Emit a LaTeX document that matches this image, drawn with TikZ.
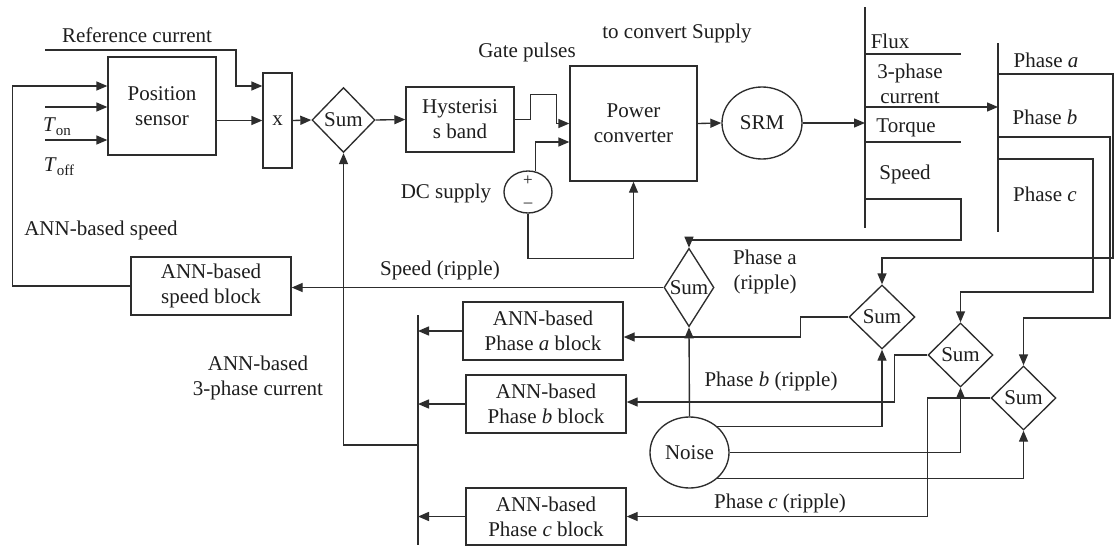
\documentclass[tikz,border=0pt]{standalone}
\usepackage{fontspec}
\setmainfont{Liberation Serif}
\usetikzlibrary{arrows.meta,shapes.geometric,calc}
\definecolor{lc}{RGB}{45,45,45}
\definecolor{tc}{RGB}{30,30,30}
\newcommand\dfont{\fontsize{21}{25}\selectfont}
\newcommand\subfont{\fontsize{15}{15}\selectfont}
\begin{document}
\begin{tikzpicture}[x=1pt,y=-1pt,line width=1.35pt,draw=lc,
  box/.style={draw=lc,rectangle,inner sep=0pt,align=center,text=tc,font=\dfont},
  sumd/.style={draw=lc,diamond,inner sep=0pt,text=tc,font=\dfont},
  ell/.style={draw=lc,ellipse,inner sep=0pt,text=tc,font=\dfont},
  lbl/.style={align=center,inner sep=0pt,text=tc,font=\dfont},
  arr/.style={draw=lc,-{Triangle[length=11pt,width=9pt]}},
  wire/.style={draw=lc}]
\useasboundingbox (0,0) rectangle (1114,546);
\fill[white] (0,0) rectangle (1114,546);

% ---- nodes
\node[box,minimum width=108pt,minimum height=98pt] (ps) at (162,106) {Position\\sensor};
\node[box,minimum width=29pt,minimum height=95pt] (xb) at (277.5,120.5) {x};
\node[sumd,minimum width=63pt,minimum height=65pt] (sum0) at (343.5,120) {Sum};
\node[box,minimum width=108pt,minimum height=65pt] (hb) at (460,119.5) {Hysterisi\\s band};
\node[box,minimum width=127pt,minimum height=115pt] (pc) at (633.5,123.5) {Power\\converter};
\node[ell,minimum width=48pt,minimum height=42pt] (dc) at (528,192) {};
\node[lbl,font=\fontsize{17}{17}\selectfont] (dcp) at (528,181) {+};
\node[lbl,font=\fontsize{17}{17}\selectfont] (dcm) at (528,205) {–};
\node[ell,minimum width=80pt,minimum height=72pt] (srm) at (762,123) {SRM};
\node[sumd,aspect=0.6,minimum width=50pt,minimum height=65pt] (ss) at (689,287.5) {Sum};
\node[sumd,minimum width=66pt,minimum height=64pt] (sa) at (882,317) {Sum};
\node[sumd,minimum width=65pt,minimum height=64pt] (sb) at (960.5,355) {Sum};
\node[sumd,minimum width=65pt,minimum height=64pt] (sc) at (1023.5,398) {Sum};
\node[ell,minimum width=79pt,minimum height=71pt] (noise) at (689.5,452.5) {Noise};
\node[box,minimum width=160pt,minimum height=58pt] (anns) at (211,286) {ANN-based\\speed block};
\node[box,minimum width=160pt,minimum height=58pt] (anna) at (543,331) {ANN-based\\Phase \textit{a} block};
\node[box,minimum width=160pt,minimum height=58pt] (annb) at (546,404) {ANN-based\\Phase \textit{b} block};
\node[box,minimum width=160pt,minimum height=57pt] (annc) at (546,516.5) {ANN-based\\Phase \textit{c} block};

% ---- labels
\node[lbl] (lrc) at (137,35) {Reference current};
\node[lbl] (lton) at (57,127) {\textit{T}\raisebox{-4pt}{\subfont on}};
\node[lbl] (ltoff) at (59,167) {\textit{T}\raisebox{-4pt}{\subfont off}};
\node[lbl] (lgp) at (527,52) {Gate pulses};
\node[lbl] (lcs) at (677,33) {to convert Supply};
\node[lbl] (ldc) at (446,193) {DC supply};
\node[lbl] (lflux) at (890,41) {Flux};
\node[lbl] (lcur) at (910,84) {3-phase\\current};
\node[lbl] (ltq) at (906,128) {Torque};
\node[lbl] (lspd) at (905,174) {Speed};
\node[lbl] (lpa) at (1046,60) {Phase \textit{a}};
\node[lbl] (lpb) at (1045,117) {Phase \textit{b}};
\node[lbl] (lpc) at (1045,194) {Phase \textit{c}};
\node[lbl] (lanns) at (101,230) {ANN-based speed};
\node[lbl] (lsr) at (440,270) {Speed (ripple)};
\node[lbl] (lpar) at (765,272) {Phase a\\(ripple)};
\node[lbl] (l3c) at (258,378) {ANN-based\\3-phase current};
\node[lbl] (lpbr) at (771,381) {Phase \textit{b} (ripple)};
\node[lbl] (lpcr) at (780,503) {Phase \textit{c} (ripple)};

% ---- coordinates
\coordinate (rc) at (45,50);
\coordinate (ton) at (45,107);
\coordinate (toff) at (45,140);
\coordinate (b1t) at (865,7);
\coordinate (b1b) at (865,228);
\coordinate (flux) at (865,54);
\coordinate (cur) at (865,107);
\coordinate (tq) at (865,142);
\coordinate (spd) at (865,199);
\coordinate (b2t) at (998,43);
\coordinate (b2b) at (998,232);
\coordinate (pa) at (998,74);
\coordinate (pb) at (998,137);
\coordinate (pcc) at (998,159);
\coordinate (b3t) at (418,315);
\coordinate (b3b) at (418,545);
\coordinate (b3m) at (418,445);

% ---- buses and stubs
\draw[wire] (b1t) -- (b1b);
\draw[wire] (b2t) -- (b2b);
\draw[wire] (b3t) -- (b3b);
\draw[wire] (flux) -- ++(96,0);
\draw[wire] (tq) -- ++(96,0);

% ---- connectors
\draw[arr] (rc) -- ++(191,0) |- ($(xb.west)+(0,-34.5)$);
\draw[arr] (ton) -- (ton -| ps.west);
\draw[arr] (toff) -- (toff -| ps.west);
\draw[arr] (anns.west) -- ++(-118,0) |- ($(ps.west)+(0,-20)$);
\draw[arr] (ps.east |- xb.west) -- (xb.west);
\draw[arr] (xb.east) -- (sum0.west);
\draw[arr] (sum0.east) -- (hb.west);
\draw[arr] (hb.east) -- ++(16,0) -- ++(0,-25) -- ++(26,0) |- (pc.west);
\draw[arr] (dc.70) |- ($(pc.west)+(0,18.5)$);
\draw[arr] (dc.south) -- ++(0,45) -| (pc.south);
\draw[arr] (pc.east) -- (srm.west);
\draw[arr] (srm.east) -- (srm.east -| b1t);
\draw[arr] (cur) -- (cur -| b2t);
\draw[arr] (spd) -- ++(96,0) -- ++(0,41) -| (ss.north);
\draw[arr] (pa) -- ++(115,0) -- ++(0,184) -| (sa.north);
\draw[arr] (pb) -- ++(112,0) -- ++(0,181) -| (sc.north);
\draw[arr] (pcc) -- ++(95,0) -- ++(0,133) -| (sb.north);
\draw[arr] (ss.west) -- (ss.west -| anns.east);
\draw[arr] (noise.north) -- (ss.south);
\draw[arr] (noise.43) -| (sa.south);
\draw[arr] (noise.east) -| (sb.south);
\draw[arr] (noise.-43) -| (sc.south);
\draw[arr] (sa.west) -- ++(-48,0) |- ($(anna.east)+(0,6)$);
\draw[arr] (sb.west) -- ++(-33,0) |- ($(annb.east)+(0,-2)$);
\draw[arr] (sc.west) -- ++(-63,0) |- (annc.east);
\draw[arr] (anna.west) -- (anna.west -| b3t);
\draw[arr] (annb.west) -- (annb.west -| b3t);
\draw[arr] (annc.west) -- (annc.west -| b3t);
\draw[arr] (b3m) -| (sum0.south);
\end{tikzpicture}
\end{document}
